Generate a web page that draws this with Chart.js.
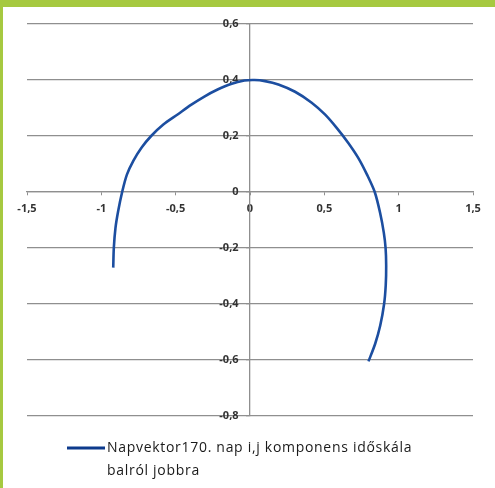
<!DOCTYPE html>
<html>
<head>
<meta charset="utf-8">
<script src="https://cdn.jsdelivr.net/npm/chart.js@4"></script>
<style>
  html, body { margin: 0; padding: 0; background: #fff; }
  #wrap { position: relative; width: 495px; height: 488px; }
  #topBar { position: absolute; left: 0; top: 0; width: 495px; height: 7px; background: #a6c940; }
  #leftBar { position: absolute; left: 0; top: 0; width: 3px; height: 488px; background: #a6c940; }
</style>
</head>
<body>
<div id="wrap">
  <canvas id="grafico" width="495" height="488"></canvas>
  <div id="topBar"></div>
  <div id="leftBar"></div>
</div>
<script>
// napvektor i,j komponensei, balról jobbra
const iValues = [-0.920, -0.916, -0.905, -0.887, -0.860, -0.828, -0.784, -0.730, -0.665, -0.583, -0.487, -0.397, -0.307, -0.218, -0.128, -0.038,
  0.030, 0.101, 0.191, 0.303, 0.415, 0.504, 0.583, 0.660, 0.729, 0.788, 0.839, 0.875, 0.900, 0.912, 0.916, 0.913, 0.902, 0.876, 0.842, 0.797];
const jValues = [-0.270, -0.200, -0.129, -0.069, 0, 0.062, 0.112, 0.158, 0.200, 0.241, 0.277, 0.311, 0.341, 0.366, 0.386, 0.398,
  0.400, 0.396, 0.384, 0.358, 0.319, 0.277, 0.229, 0.176, 0.121, 0.061, 0, -0.074, -0.145, -0.200, -0.263, -0.333, -0.400, -0.477, -0.542, -0.605];

const xRange = [-1.5, 1.5];
const yRange = [-0.8, 0.6];
const legendLines = ['Napvektor170. nap i,j komponens időskála', 'balról jobbra'];

const fmt = v => String(Math.round(v * 10) / 10).replace('.', ',');

// legenda kézzel, mert két sorba törik
const legendaPlugin = {
  id: 'legenda',
  afterDraw(chart) {
    const ctx = chart.ctx;
    const ds = chart.data.datasets[0];
    const y0 = chart.chartArea.bottom + 32;
    const x0 = 67;
    ctx.save();
    ctx.strokeStyle = '#0d3a8c';
    ctx.lineWidth = 3;
    ctx.beginPath();
    ctx.moveTo(x0, y0);
    ctx.lineTo(x0 + 38, y0);
    ctx.stroke();
    ctx.fillStyle = '#1a1a1a';
    ctx.font = '14px "Open Sans"';
    ctx.letterSpacing = '0.7px';
    ctx.textBaseline = 'middle';
    ds.legendText.forEach((sor, i) => ctx.fillText(sor, x0 + 40, y0 + i * 23));
    ctx.restore();
  }
};

new Chart(document.getElementById('grafico'), {
  type: 'scatter',
  data: {
    datasets: [{
      label: legendLines.join(' '),
      legendText: legendLines,
      data: iValues.map((x, k) => ({ x: x, y: jValues[k] })),
      showLine: true,
      borderColor: '#1c4ea0',
      borderWidth: 2.6,
      pointRadius: 0,
      tension: 0.3,
      fill: false
    }]
  },
  options: {
    responsive: false,
    animation: false,
    layout: { padding: { left: 27, right: 22, top: 24, bottom: 72 } },
    plugins: {
      legend: { display: false },
      tooltip: { enabled: false }
    },
    scales: {
      x: {
        type: 'linear',
        min: xRange[0],
        max: xRange[1],
        position: { y: 0 },
        afterFit: s => { s.height = 0; },
        grid: { drawOnChartArea: false, color: '#8f8f8f', tickLength: 3 },
        border: { color: '#8f8f8f', width: 1.3 },
        ticks: {
          stepSize: 0.5,
          padding: 7,
          color: '#333',
          font: { family: 'Open Sans', size: 11, weight: 'bold' },
          callback: fmt
        }
      },
      y: {
        type: 'linear',
        min: yRange[0],
        max: yRange[1],
        position: { x: 0 },
        afterFit: s => { s.width = 0; },
        grid: { color: '#8f8f8f', lineWidth: 1.3, tickLength: 3 },
        border: { color: '#8f8f8f', width: 1.3 },
        ticks: {
          stepSize: 0.2,
          color: '#333',
          font: { family: 'Open Sans', size: 11, weight: 'bold' },
          callback: v => fmt(v) + '    '
        }
      }
    }
  },
  plugins: [legendaPlugin]
});
</script>
</body>
</html>
